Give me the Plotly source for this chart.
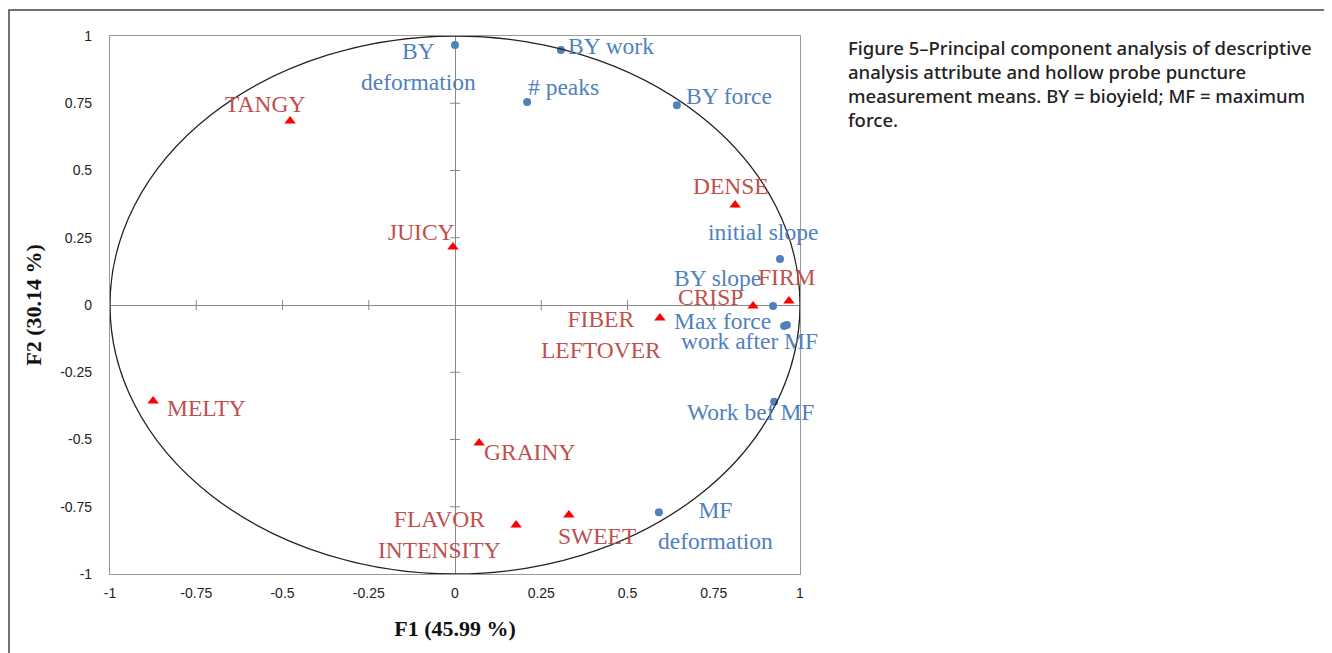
import plotly.graph_objects as go

# ---- data ----
instr_names = ["BY deformation", "BY work", "# peaks", "BY force", "initial slope",
               "BY slope", "Max force", "work after MF", "Work bef MF", "MF deformation"]
instr_labels = ["BY<br>deformation", "BY work", "# peaks", "BY force", "initial slope",
                "BY slope", "Max force", "work after MF", "Work bef MF", "MF<br>deformation"]
instr_f1 = [0.000, 0.307, 0.209, 0.643, 0.942, 0.922, 0.954, 0.962, 0.925, 0.591]
instr_f2 = [0.967, 0.948, 0.755, 0.743, 0.171, -0.004, -0.078, -0.074, -0.360, -0.770]

sens_names = ["TANGY", "JUICY", "DENSE", "FIRM", "CRISP", "FIBER LEFTOVER",
              "MELTY", "GRAINY", "FLAVOR INTENSITY", "SWEET"]
sens_labels = ["TANGY", "JUICY", "DENSE", "FIRM", "CRISP", "FIBER<br>LEFTOVER",
               "MELTY", "GRAINY", "FLAVOR<br>INTENSITY", "SWEET"]
sens_f1 = [-0.478, -0.006, 0.812, 0.968, 0.864, 0.594, -0.875, 0.070, 0.177, 0.330]
sens_f2 = [0.684, 0.216, 0.372, 0.015, -0.004, -0.048, -0.357, -0.513, -0.818, -0.781]

tick_vals = [-1, -0.75, -0.5, -0.25, 0, 0.25, 0.5, 0.75, 1]
tick_text = ["-1", "-0.75", "-0.5", "-0.25", "0", "0.25", "0.5", "0.75", "1"]

x_title = "F1 (45.99 %)"
y_title = "F2 (30.14 %)"
caption = ("Figure 5\u2013Principal component analysis of descriptive<br>"
           "analysis attribute and hollow probe puncture<br>"
           "measurement means. BY = bioyield; MF = maximum<br>force.")

# label placement (pixel offsets: xshift, yshift, xanchor)
instr_offsets = [(-37, -22, "center"), (5, 4, "left"), (36, 15, "center"), (7, 9, "left"),
                 (-17, 27, "center"), (-56, 28, "center"), (-62, 5, "center"),
                 (-37, -16, "center"), (-24, -10, "center"), (57, -13, "center")]
sens_offsets = [(-25, 17, "center"), (-31, 15, "center"), (-4, 19, "center"),
                (-2, 24, "center"), (-43, 9, "center"), (-59, -17, "center"),
                (12, -7, "left"), (3, -9, "left"), (-77, -9, "center"), (28, -21, "center")]

BLUE = "#4F81BD"
RED_TXT = "#C0504D"
RED = "#FF0000"
SERIF = "Liberation Serif, Times New Roman, serif"

W, H = 1324, 645
L, R, T, B = 102, 532, 28, 79
pw, ph = W - L - R, H - T - B

fig = go.Figure()

fig.add_trace(go.Scatter(x=instr_f1, y=instr_f2, mode="markers", name="Instrumental",
                         text=instr_names,
                         marker=dict(symbol="circle", size=8, color=BLUE)))
fig.add_trace(go.Scatter(x=sens_f1, y=sens_f2, mode="markers", name="Sensory",
                         text=sens_names,
                         marker=dict(symbol="triangle-up", size=10, color=RED)))

annotations = []
for xv, yv, lab, (dx, dy, xa) in zip(instr_f1, instr_f2, instr_labels, instr_offsets):
    annotations.append(dict(x=xv, y=yv, text=lab, showarrow=False, xshift=dx, yshift=dy,
                            xanchor=xa, yanchor="middle",
                            font=dict(family=SERIF, size=23.5, color=BLUE)))
for xv, yv, lab, (dx, dy, xa) in zip(sens_f1, sens_f2, sens_labels, sens_offsets):
    annotations.append(dict(x=xv, y=yv, text=lab, showarrow=False, xshift=dx, yshift=dy,
                            xanchor=xa, yanchor="middle",
                            font=dict(family=SERIF, size=23.5, color=RED_TXT)))

annotations.append(dict(xref="paper", yref="paper",
                        x=(838 - L) / pw, y=(ph + T - 25) / ph,
                        xanchor="left", yanchor="top", align="left", showarrow=False,
                        text=caption,
                        font=dict(family="Noto Sans, sans-serif", size=18.5,
                                  color="#222222", weight=500)))

shapes = []
# correlation circle
shapes.append(dict(type="circle", xref="x", yref="y", x0=-1, x1=1, y0=-1, y1=1,
                   line=dict(color="#222222", width=1.3), layer="above"))
# cross tick marks on the zero lines
tx = 5.0 / (ph / 2)   # ~5px in y data units
ty = 5.0 / (pw / 2)   # ~5px in x data units
for v in tick_vals:
    if v in (-1, 0, 1):
        continue
    shapes.append(dict(type="line", xref="x", yref="y", x0=v, x1=v, y0=-tx, y1=tx,
                       line=dict(color="#888888", width=1)))
    shapes.append(dict(type="line", xref="x", yref="y", x0=-ty, x1=ty, y0=v, y1=v,
                       line=dict(color="#888888", width=1)))
# outer figure frame
shapes.append(dict(type="rect", xref="paper", yref="paper",
                   x0=(1 - L) / pw, x1=(1320 - L) / pw,
                   y0=-0.3, y1=(ph + T - 2) / ph,
                   line=dict(color="#444444", width=1.5)))

def axis(standoff, title, tstandoff):
    return dict(range=[-1, 1], tickvals=tick_vals, ticktext=tick_text,
                showgrid=False, zeroline=True, zerolinecolor="#888888", zerolinewidth=1,
                showline=True, linecolor="#999999", linewidth=1.2, mirror=True,
                ticks="", tickfont=dict(family="Liberation Sans, Arial, sans-serif",
                                        size=14, color="#222222"),
                ticklabelstandoff=standoff,
                title=dict(text="<b>" + title + "</b>", standoff=tstandoff,
                           font=dict(family=SERIF, size=22, color="#111111")))

fig.update_layout(
    width=W, height=H,
    margin=dict(l=L, r=R, t=T, b=B),
    paper_bgcolor="white", plot_bgcolor="white",
    showlegend=False,
    xaxis=axis(6, x_title, 20),
    yaxis=axis(14, y_title, 12),
    annotations=annotations,
    shapes=shapes,
)

fig.write_html("out.html")
